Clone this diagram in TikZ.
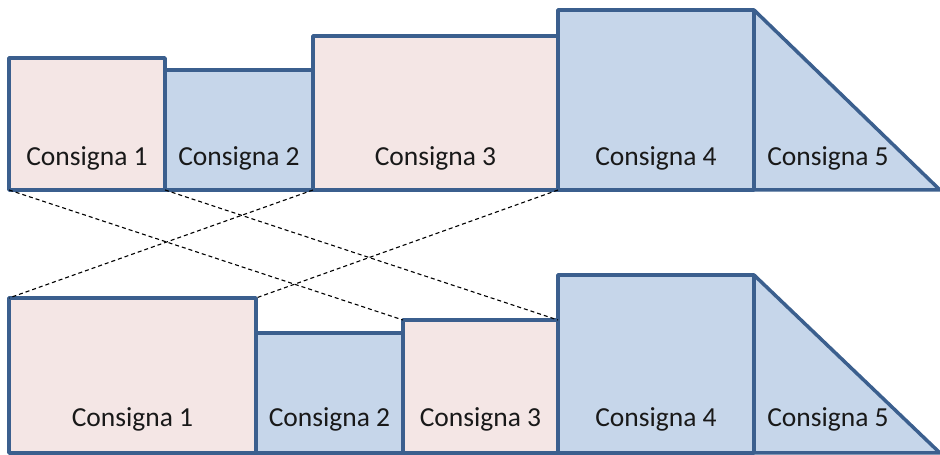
\documentclass[tikz,border=0pt]{standalone}
\usepackage{fontspec}
\setmainfont{Carlito}
\definecolor{edge}{HTML}{3B5F8E}
\definecolor{pinkfill}{HTML}{F4E6E5}
\definecolor{bluefill}{HTML}{C6D6EA}
\tikzset{
  outline/.style={draw=edge,line width=3.5pt,line join=round},
  blk/.style={outline,inner sep=0pt,outer sep=0pt,anchor=south west},
  lbl/.style={font=\fontsize{27.5}{32}\selectfont,text=black!90,inner sep=0pt},
  map/.style={line width=1.1pt,dash pattern=on 4pt off 3pt}
}
\begin{document}
\begin{tikzpicture}[x=1pt,y=1pt]
\useasboundingbox (0,0) rectangle (940,455);

\node[blk,fill=pinkfill,minimum width=156pt,minimum height=132pt] (t1) at (9,265) {};
\node[blk,fill=bluefill,minimum width=148pt,minimum height=120pt] (t2) at (t1.south east) {};
\node[blk,fill=pinkfill,minimum width=245pt,minimum height=154pt] (t3) at (t2.south east) {};
\node[blk,fill=bluefill,minimum width=196pt,minimum height=180pt] (t4) at (t3.south east) {};
\draw[outline,fill=bluefill] (t4.north east) -- (t4.south east) -- ++(186,0) -- cycle;

\node[blk,fill=pinkfill,minimum width=247pt,minimum height=155pt] (b1) at (9,2) {};
\node[blk,fill=bluefill,minimum width=147pt,minimum height=120pt] (b2) at (b1.south east) {};
\node[blk,fill=pinkfill,minimum width=155pt,minimum height=133pt] (b3) at (b2.south east) {};
\node[blk,fill=bluefill,minimum width=196pt,minimum height=178pt] (b4) at (b3.south east) {};
\draw[outline,fill=bluefill] (b4.north east) -- (b4.south east) -- ++(186,0) -- cycle;

\node[lbl] (lt1) at ([yshift=32pt]t1.south) {Consigna 1};
\node[lbl] (lt2) at ([yshift=32pt]t2.south) {Consigna 2};
\node[lbl] (lt3) at ([yshift=32pt]t3.south) {Consigna 3};
\node[lbl] (lt4) at ([yshift=32pt]t4.south) {Consigna 4};
\node[lbl] (lt5) at ([xshift=74pt,yshift=32pt]t4.south east) {Consigna 5};

\node[lbl] (lb1) at ([yshift=34pt]b1.south) {Consigna 1};
\node[lbl] (lb2) at ([yshift=34pt]b2.south) {Consigna 2};
\node[lbl] (lb3) at ([yshift=34pt]b3.south) {Consigna 3};
\node[lbl] (lb4) at ([yshift=34pt]b4.south) {Consigna 4};
\node[lbl] (lb5) at ([xshift=74pt,yshift=34pt]b4.south east) {Consigna 5};

\draw[map] (t1.south west) -- (b3.north west);
\draw[map] (t1.south east) -- (b3.north east);
\draw[map] (t3.south west) -- (b1.north west);
\draw[map] (t3.south east) -- (b1.north east);
\end{tikzpicture}
\end{document}
